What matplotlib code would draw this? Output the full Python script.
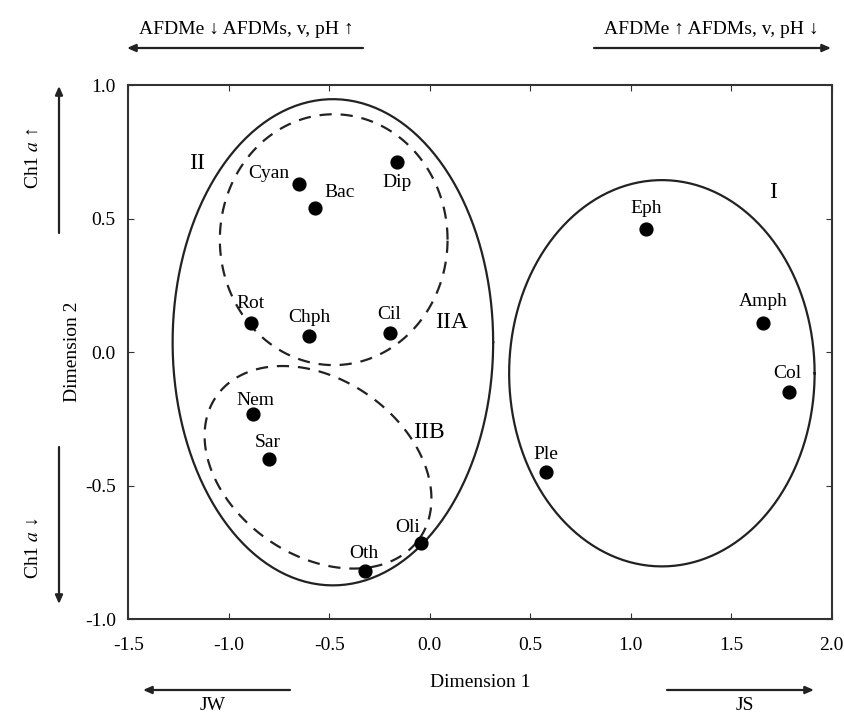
import numpy as np
import matplotlib
matplotlib.use("Agg")
import matplotlib.pyplot as plt

plt.rcParams['font.family'] = ['Liberation Serif', 'DejaVu Serif']
plt.rcParams['mathtext.fontset'] = 'stix'
plt.rcParams['axes.unicode_minus'] = False

# taxa scores on the two dimensions
taxa = ["Cyan", "Bac", "Dip", "Rot", "Chph", "Cil", "Nem", "Sar", "Oli", "Oth",
        "Eph", "Amph", "Col", "Ple"]
dim1 = [-0.65, -0.57, -0.165, -0.89, -0.60, -0.20, -0.88, -0.80, -0.045, -0.32,
        1.075, 1.66, 1.79, 0.58]
dim2 = [0.63, 0.54, 0.71, 0.11, 0.06, 0.07, -0.23, -0.40, -0.715, -0.82,
        0.46, 0.11, -0.15, -0.45]
# label offsets (pixels) relative to each dot
lab_dx = [-30, 24, 0, 0, 0, 0, 2, -1, -13, -2, 0, 0, -2, 0]
lab_dy = [10, 15, -20, 19, 19, 19, 13, 17, 16, 18, 21, 21, 19, 18]

xticks = [-1.5, -1.0, -0.5, 0.0, 0.5, 1.0, 1.5, 2.0]
yticks = [-1.0, -0.5, 0.0, 0.5, 1.0]

W, H = 844, 715
fs = 14
fig = plt.figure(figsize=(W / 100, H / 100), dpi=100)
ax = fig.add_axes([128.3 / W, 1 - 619.3 / H, (831.7 - 128.3) / W, (619.3 - 85) / H])

ax.scatter(dim1, dim2, s=85, color='black', zorder=3)
for name, x, y, dx, dy in zip(taxa, dim1, dim2, lab_dx, lab_dy):
    ax.annotate(name, (x, y), xytext=(dx, dy), textcoords='offset pixels',
                ha='center', va='center', fontsize=fs)

# aspect of the axes in pixels (y px per unit / x px per unit)
asp = (534.3 / 2.0) / (703.4 / 3.5)


def ellipse(cx, cy, a, b, ang=0.0):
    # a, b semi-axes in x-units, angle in screen space
    t = np.linspace(0, 2 * np.pi, 300)
    th = np.radians(ang)
    u = a * np.cos(t) * np.cos(th) - b * np.sin(t) * np.sin(th)
    v = a * np.cos(t) * np.sin(th) + b * np.sin(t) * np.cos(th)
    return cx + u, cy + v / asp


ex, ey = ellipse(-0.482, 0.037, 0.7975, 0.91 * asp)
ax.plot(ex, ey, color='#222222', lw=1.6)
ex, ey = ellipse(1.155, -0.079, 0.76, 0.723 * asp)
ax.plot(ex, ey, color='#222222', lw=1.6)
ex, ey = ellipse(-0.478, 0.421, 0.5665, 0.4695 * asp)
ax.plot(ex, ey, color='#222222', lw=1.6, dashes=(5.5, 4))
ex, ey = ellipse(-0.556, -0.431, 0.617, 0.438, -35)
ax.plot(ex, ey, color='#222222', lw=1.6, dashes=(5.5, 4))

ax.text(-1.158, 0.708, "II", fontsize=17, ha='center', va='center')
ax.text(0.11, 0.112, "IIA", fontsize=17, ha='center', va='center')
ax.text(-0.004, -0.30, "IIB", fontsize=17, ha='center', va='center')
ax.text(1.708, 0.596, "I", fontsize=17, ha='center', va='center')

ax.set_xlim(-1.5, 2.0)
ax.set_ylim(-1.0, 1.0)
ax.set_xticks(xticks)
ax.set_yticks(yticks)
ax.set_xticklabels(["%.1f" % v for v in xticks])
ax.set_yticklabels(["%.1f" % v for v in yticks])
ax.tick_params(direction='in', length=4, top=True, right=True, labelsize=fs,
               color='#333333')
ax.tick_params(axis='x', pad=13)
ax.tick_params(axis='y', pad=9)
for sp in ax.spines.values():
    sp.set_linewidth(1.5)
    sp.set_color('#333333')

ax.set_xlabel("Dimension 1", fontsize=fs, labelpad=14)
ax.set_ylabel("Dimension 2", fontsize=fs, labelpad=3)


def fp(x, y):
    return (x / W, 1 - y / H)


arrow = dict(arrowstyle='-|>,head_length=0.5,head_width=0.22', color='#222222', lw=1.6,
             shrinkA=0, shrinkB=0)
# top arrows
fig.text(*fp(246, 30), "AFDMe \u2193 AFDMs, v, pH \u2191", ha='center', va='center', fontsize=fs)
ax.annotate('', xy=fp(127, 48), xytext=fp(363, 48), xycoords='figure fraction', arrowprops=arrow)
fig.text(*fp(711, 30), "AFDMe \u2191 AFDMs, v, pH \u2193", ha='center', va='center', fontsize=fs)
ax.annotate('', xy=fp(831, 48), xytext=fp(594, 48), xycoords='figure fraction', arrowprops=arrow)

# left arrows
fig.text(*fp(33, 158), "Ch1 $a$ \u2191", ha='center', va='center', rotation=90, fontsize=fs)
ax.annotate('', xy=fp(59, 86), xytext=fp(59, 233), xycoords='figure fraction', arrowprops=arrow)
fig.text(*fp(33, 548), "Ch1 $a$ \u2193", ha='center', va='center', rotation=90, fontsize=fs)
ax.annotate('', xy=fp(59, 604), xytext=fp(59, 447), xycoords='figure fraction', arrowprops=arrow)

# bottom arrows
ax.annotate('', xy=fp(143, 690), xytext=fp(290, 690), xycoords='figure fraction', arrowprops=arrow)
fig.text(*fp(213, 706), "JW", ha='center', va='center', fontsize=fs)
ax.annotate('', xy=fp(814, 690), xytext=fp(667, 690), xycoords='figure fraction', arrowprops=arrow)
fig.text(*fp(745, 706), "JS", ha='center', va='center', fontsize=fs)

fig.savefig("out.png", dpi=100)
